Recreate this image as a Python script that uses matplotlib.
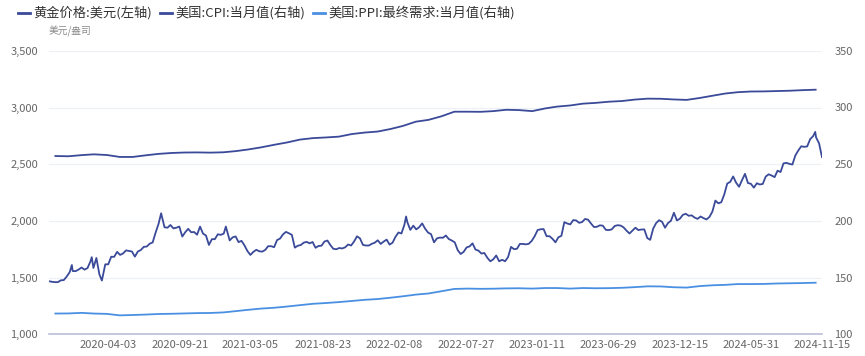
import matplotlib
matplotlib.use("Agg")
import matplotlib.pyplot as plt
import matplotlib.dates as mdates
from matplotlib.lines import Line2D
from matplotlib.ticker import FuncFormatter
import pandas as pd

plt.rcParams['font.family'] = ['Noto Sans CJK SC', 'DejaVu Sans']

# ---------------- data ----------------
gold_dates = [
    "2019-11-15","2019-11-22","2019-11-29","2019-12-06","2019-12-13","2019-12-20","2019-12-27",
    "2020-01-03","2020-01-08","2020-01-10","2020-01-17","2020-01-24","2020-01-31","2020-02-07","2020-02-14",
    "2020-02-21","2020-02-24","2020-02-28","2020-03-06","2020-03-13","2020-03-19","2020-03-27","2020-04-03",
    "2020-04-10","2020-04-17","2020-04-24","2020-05-01","2020-05-08","2020-05-15","2020-05-22","2020-05-29",
    "2020-06-05","2020-06-12","2020-06-19","2020-06-26","2020-07-03","2020-07-10","2020-07-17","2020-07-24",
    "2020-07-31","2020-08-06","2020-08-14","2020-08-21","2020-08-28","2020-09-04","2020-09-11","2020-09-18",
    "2020-09-25","2020-10-02","2020-10-09","2020-10-16","2020-10-23","2020-10-30","2020-11-06","2020-11-13",
    "2020-11-20","2020-11-27","2020-12-04","2020-12-11","2020-12-18","2020-12-25",
    "2021-01-01","2021-01-06","2021-01-15","2021-01-22","2021-01-29","2021-02-05","2021-02-12","2021-02-19",
    "2021-02-26","2021-03-05","2021-03-12","2021-03-19","2021-03-26","2021-04-02","2021-04-09","2021-04-16",
    "2021-04-23","2021-04-30","2021-05-07","2021-05-14","2021-05-21","2021-05-28","2021-06-04","2021-06-11",
    "2021-06-18","2021-06-25","2021-07-02","2021-07-09","2021-07-16","2021-07-23","2021-07-30","2021-08-06",
    "2021-08-13","2021-08-20","2021-08-27","2021-09-03","2021-09-10","2021-09-17","2021-09-24","2021-10-01",
    "2021-10-08","2021-10-15","2021-10-22","2021-10-29","2021-11-05","2021-11-12","2021-11-19","2021-11-26",
    "2021-12-03","2021-12-10","2021-12-17","2021-12-24","2021-12-31",
    "2022-01-07","2022-01-14","2022-01-21","2022-01-28","2022-02-04","2022-02-11","2022-02-18","2022-02-25",
    "2022-03-04","2022-03-08","2022-03-11","2022-03-18","2022-03-25","2022-04-01","2022-04-08","2022-04-15",
    "2022-04-22","2022-04-29","2022-05-06","2022-05-13","2022-05-20","2022-05-27","2022-06-03","2022-06-10",
    "2022-06-17","2022-06-24","2022-07-01","2022-07-08","2022-07-15","2022-07-22","2022-07-29","2022-08-05",
    "2022-08-12","2022-08-19","2022-08-26","2022-09-02","2022-09-09","2022-09-16","2022-09-23","2022-09-30",
    "2022-10-07","2022-10-14","2022-10-21","2022-10-28","2022-11-04","2022-11-11","2022-11-18","2022-11-25",
    "2022-12-02","2022-12-09","2022-12-16","2022-12-23","2022-12-30",
    "2023-01-06","2023-01-13","2023-01-20","2023-01-27","2023-02-03","2023-02-10","2023-02-17","2023-02-24",
    "2023-03-03","2023-03-10","2023-03-17","2023-03-24","2023-03-31","2023-04-07","2023-04-14","2023-04-21",
    "2023-04-28","2023-05-05","2023-05-12","2023-05-19","2023-05-26","2023-06-02","2023-06-09","2023-06-16",
    "2023-06-23","2023-06-30","2023-07-07","2023-07-14","2023-07-21","2023-07-28","2023-08-04","2023-08-11",
    "2023-08-18","2023-08-25","2023-09-01","2023-09-08","2023-09-15","2023-09-22","2023-09-29","2023-10-06",
    "2023-10-13","2023-10-20","2023-10-27","2023-11-03","2023-11-10","2023-11-17","2023-11-24","2023-12-01",
    "2023-12-08","2023-12-15","2023-12-22","2023-12-29",
    "2024-01-05","2024-01-12","2024-01-19","2024-01-26","2024-02-02","2024-02-09","2024-02-16","2024-02-23",
    "2024-03-01","2024-03-08","2024-03-15","2024-03-22","2024-03-29","2024-04-05","2024-04-12","2024-04-19",
    "2024-04-26","2024-05-03","2024-05-10","2024-05-17","2024-05-24","2024-05-31","2024-06-07","2024-06-14",
    "2024-06-21","2024-06-28","2024-07-05","2024-07-12","2024-07-19","2024-07-26","2024-08-02","2024-08-09",
    "2024-08-16","2024-08-23","2024-08-30","2024-09-06","2024-09-13","2024-09-20","2024-09-27","2024-10-04",
    "2024-10-11","2024-10-18","2024-10-25","2024-10-30","2024-11-01","2024-11-08","2024-11-15",
]
gold_values = [
    1468,1463,1460,1460,1476,1478,1510,
    1549,1611,1558,1557,1571,1589,1570,1584,
    1643,1680,1585,1673,1530,1474,1617,1617,
    1684,1683,1727,1700,1713,1740,1735,1730,
    1685,1730,1743,1771,1774,1799,1810,1897,
    1975,2067,1944,1940,1964,1934,1940,1950,
    1862,1900,1930,1900,1902,1878,1950,1888,
    1871,1788,1839,1839,1882,1877,
    1888,1950,1828,1855,1863,1813,1824,1784,
    1734,1700,1727,1745,1732,1729,1744,1777,
    1777,1768,1831,1844,1881,1903,1891,1877,
    1764,1781,1787,1808,1815,1802,1814,1763,
    1779,1781,1818,1827,1787,1754,1750,1761,
    1757,1767,1792,1783,1818,1864,1846,1788,
    1783,1783,1798,1808,1829,
    1797,1818,1835,1791,1808,1860,1898,1889,
    1966,2039,1988,1921,1958,1925,1945,1978,
    1931,1897,1883,1811,1846,1853,1851,1871,
    1840,1827,1811,1742,1708,1727,1766,1775,
    1802,1747,1738,1712,1717,1675,1644,1661,
    1695,1644,1657,1644,1681,1771,1751,1754,
    1797,1797,1793,1798,1824,
    1866,1920,1926,1928,1865,1865,1842,1811,
    1856,1868,1989,1977,1969,2007,2004,1983,
    1990,2017,2011,1977,1946,1948,1961,1958,
    1921,1919,1925,1955,1962,1959,1943,1914,
    1889,1915,1940,1919,1924,1925,1849,1833,
    1932,1981,2006,1992,1940,1981,2001,2072,
    2004,2019,2053,2063,
    2045,2049,2029,2018,2039,2024,2013,2035,
    2083,2179,2155,2165,2233,2329,2344,2392,
    2337,2301,2360,2415,2334,2327,2293,2332,
    2321,2326,2391,2411,2400,2386,2443,2431,
    2507,2512,2503,2497,2577,2621,2658,2653,
    2657,2721,2747,2785,2736,2685,2563,
]

month_dates = pd.date_range("2019-11-30", "2024-10-31", freq="ME")
cpi_values = [
    257.2,257.0,258.0,258.7,258.1,256.4,256.4,257.8,259.1,259.9,260.3,260.4,
    260.2,260.5,261.6,263.0,264.9,267.1,269.2,271.7,273.0,273.6,274.3,276.6,
    277.9,278.8,281.1,283.7,287.5,289.1,292.3,296.3,296.3,296.2,296.8,298.0,
    297.7,296.8,299.2,300.8,301.8,303.4,304.1,305.1,305.7,307.0,307.8,307.7,
    307.1,306.7,308.4,310.3,312.3,313.5,314.1,314.2,314.5,314.8,315.3,315.7,
]
ppi_values = [
    118.3,118.4,118.9,118.3,118.0,116.7,117.0,117.4,117.9,118.1,118.4,118.7,
    118.8,119.3,120.5,121.6,122.7,123.4,124.5,125.7,126.9,127.6,128.4,129.4,
    130.4,131.1,132.3,133.5,135.0,136.0,138.0,140.0,140.3,140.1,140.2,140.5,
    140.6,140.3,140.8,140.8,140.3,140.8,140.6,140.7,141.0,141.6,142.3,142.2,
    141.5,141.2,142.5,143.2,143.6,144.3,144.3,144.4,144.8,145.0,145.2,145.5,
]

tick_labels = ["2020-04-03","2020-09-21","2021-03-05","2021-08-23","2022-02-08","2022-07-27",
               "2023-01-11","2023-06-29","2023-12-15","2024-05-31","2024-11-15"]

legend_labels = ["黄金价格:美元(左轴)", "美国:CPI:当月值(右轴)", "美国:PPI:最终需求:当月值(右轴)"]
unit_label = "美元/盎司"

# ---------------- style ----------------
NAVY = "#3a4a99"
LIGHT = "#4a90e2"
GRID = "#eef0f6"
TICKC = "#666666"

fig = plt.figure(figsize=(8.65, 3.56), dpi=100)
ax = fig.add_axes([49/865, 1-334.3/356, (822-49)/865, (334.3-50.8)/356])
ax2 = ax.twinx()

gd = pd.to_datetime(gold_dates)
ax.plot(gd, gold_values, color=NAVY, lw=1.3, zorder=3)
ax2.plot(month_dates, cpi_values, color=NAVY, lw=1.3, zorder=3)
ax2.plot(month_dates, ppi_values, color=LIGHT, lw=1.3, zorder=3)

ax.set_xlim(pd.Timestamp("2019-11-15"), pd.Timestamp("2024-11-15"))
ax.set_ylim(1000, 3500)
ax2.set_ylim(100, 350)
ax.set_yticks(range(1000, 3501, 500))
ax2.set_yticks(range(100, 351, 50))
ax.yaxis.set_major_formatter(FuncFormatter(lambda v, p: f"{int(v):,}"))

ax.set_xticks(pd.to_datetime(tick_labels))
ax.set_xticklabels(tick_labels)

ax.grid(axis="y", color=GRID, lw=0.9, zorder=0)
ax.set_axisbelow(True)
for a in (ax, ax2):
    for s in a.spines.values():
        s.set_visible(False)
ax.spines["bottom"].set_visible(True)
ax.spines["bottom"].set_color("#b9bfd8")
ax.spines["bottom"].set_linewidth(1.2)

ax.tick_params(axis="x", length=0, pad=4, labelsize=8, labelcolor=TICKC)
ax.tick_params(axis="y", length=0, pad=8, labelsize=8, labelcolor=TICKC)
ax2.tick_params(axis="y", length=0, pad=9, labelsize=8, labelcolor=TICKC)

# legend (manual)
items = [(18, 30, 33, NAVY), (160, 172, 175, NAVY), (313, 325, 328, LIGHT)]
ly = 1 - 13/356
for (x0, x1, tx, col), lab in zip(items, legend_labels):
    fig.add_artist(Line2D([x0/865, x1/865], [ly, ly], color=col, lw=2.0, transform=fig.transFigure))
    fig.text(tx/865, ly, lab, fontsize=9.5, color="#333333", va="center", ha="left")

fig.text(49/865, 1-31/356, unit_label, fontsize=7, color="#888888", va="center", ha="left")

fig.savefig("out.png", dpi=100)
